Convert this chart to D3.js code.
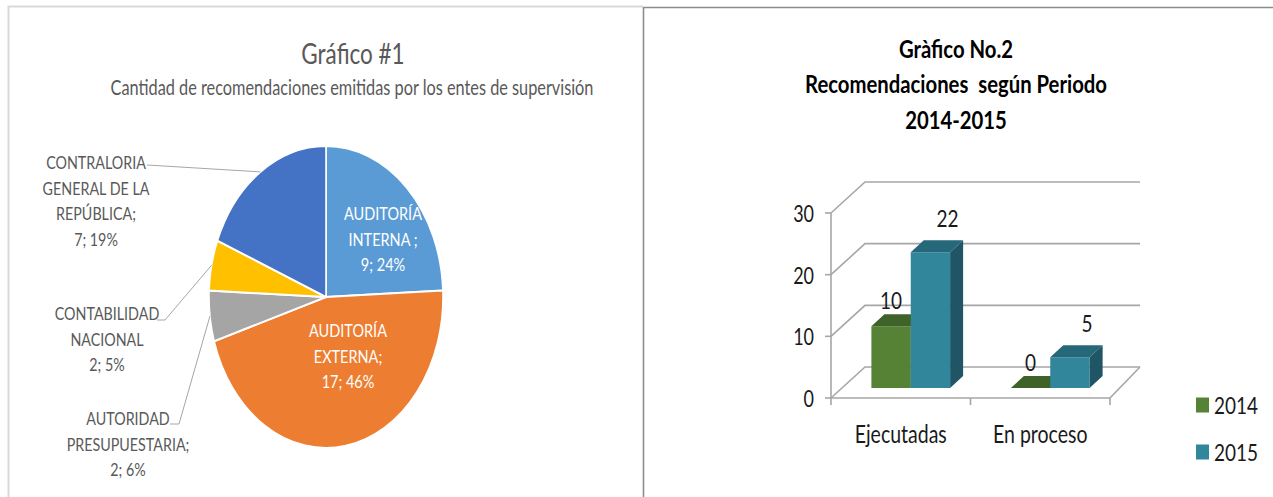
<!DOCTYPE html>
<html>
<head>
<meta charset="utf-8">
<script src="https://cdn.jsdelivr.net/npm/d3@7"></script>
<style>
  html, body { margin: 0; padding: 0; background: #fff; }
  svg { display: block; }
  text { white-space: pre; }
</style>
</head>
<body>
<div id="chart"></div>
<script>
// ---------------- DATA ----------------
// Chart 1 (pie)
const pieLabelNames = [
  "AUDITORÍA\nINTERNA ;",
  "AUDITORÍA\nEXTERNA;",
  "AUTORIDAD\nPRESUPUESTARIA;",
  "CONTABILIDAD\nNACIONAL",
  "CONTRALORIA\nGENERAL DE LA\nREPÚBLICA;"
];
const pieValues = [9, 17, 2, 2, 7];
const piePercents = ["24%", "46%", "6%", "5%", "19%"];
const pieColors = ["#5b9bd5", "#ed7d31", "#a5a5a5", "#ffc000", "#4472c4"];
const pieTitle = "Gráfico #1";
const pieSubtitle = "Cantidad de recomendaciones emitidas por los entes de supervisión";

// Chart 2 (3D column)
const barTitleLines = ["Gràfico No.2", "Recomendaciones  según Periodo", "2014-2015"];
const barCategories = ["Ejecutadas", "En proceso"];
const seriesNames = ["2014", "2015"];
const values2014 = [10, 0];
const values2015 = [22, 5];
const yTicks = [0, 10, 20, 30];

// ---------------- SETUP ----------------
const W = 1273, H = 497;
const FONT = "Lato, 'Open Sans', sans-serif";
const SY = 1.25;

const svg = d3.select("#chart").append("svg")
  .attr("width", W).attr("height", H)
  .attr("viewBox", `0 0 ${W} ${H}`);
svg.append("rect").attr("width", W).attr("height", H).attr("fill", "#fff");

function txt(g, x, y, s, o) {
  return g.append("text")
    .attr("transform", `translate(${x},${y}) scale(1,${o.sy || SY})`)
    .attr("text-anchor", o.anchor || "middle")
    .attr("dominant-baseline", "central")
    .attr("xml:space", "preserve")
    .style("font-family", FONT)
    .style("font-size", o.size + "px")
    .style("font-weight", o.weight || "normal")
    .style("fill", o.color || "#000")
    .text(s);
}

// ---------------- PANEL BORDERS ----------------
svg.append("path").attr("d", "M8.5,497 V6.5 H643").attr("fill", "none")
  .attr("stroke", "#d9d9d9").attr("stroke-width", 2);
svg.append("path").attr("d", "M643.5,497 V7.5 H1273").attr("fill", "none")
  .attr("stroke", "#8c8c8c").attr("stroke-width", 1.6);

// ---------------- PIE ----------------
const left = svg.append("g");
txt(left, 353, 53, pieTitle, { size: 22.5, color: "#595959" });
txt(left, 352, 87, pieSubtitle, { size: 16.3, color: "#595959" });

const cx = 326, cy = 297, rx = 117, ry = 151;
const pie = d3.pie().sort(null).value(d => d)(pieValues);
const arc = d3.arc().innerRadius(0).outerRadius(rx);
const pieG = left.append("g").attr("transform", `translate(${cx},${cy}) scale(1,${ry / rx})`);
pieG.selectAll("path").data(pie).enter().append("path")
  .attr("d", arc)
  .attr("fill", (d, i) => pieColors[i])
  .attr("stroke", "#fff").attr("stroke-width", 1.6);

function edgePoint(d, k) {
  const a = (d.startAngle + d.endAngle) / 2;
  return [cx + rx * k * Math.sin(a), cy - ry * k * Math.cos(a)];
}
const labelText = (i) => pieLabelNames[i].split("\n").concat([`${pieValues[i]}; ${piePercents[i]}`]);
const LH = 25.5;

// Inside labels (slices 0,1)
const insidePos = { 0: [383, 213], 1: [348, 330] };
[0, 1].forEach(i => {
  const lines = labelText(i);
  lines.forEach((s, j) => txt(left, insidePos[i][0], insidePos[i][1] + j * LH, s, { size: 14.5, color: "#fff" }));
});

// Outside labels with leader lines (slices 2,3,4)
const outsideLayout = {
  2: { x: 128, y: 418, line: [[170, 424], [179, 424]] },
  3: { x: 107, y: 313, line: [[157, 320], [165, 320]] },
  4: { x: 96, y: 162, line: [[147, 165]] }
};
[2, 3, 4].forEach(i => {
  const L = outsideLayout[i];
  const pts = L.line.concat([edgePoint(pie[i], 1)]);
  left.append("path").attr("d", d3.line()(pts)).attr("fill", "none")
    .attr("stroke", "#a6a6a6").attr("stroke-width", 1);
  labelText(i).forEach((s, j) => txt(left, L.x, L.y + j * LH, s, { size: 14.3, color: "#595959" }));
});

// ---------------- 3D COLUMN ----------------
const right = svg.append("g");
barTitleLines.forEach((s, j) => txt(right, 956, 48 + j * 35.5, s, { size: 20.3, weight: "bold", color: "#000" }));

const x0 = 831, x1 = 1110;
const y = d3.scaleLinear().domain([0, 30]).range([398, 213]);
const DX = 34, DY = -31;         // wall depth
const PX = 10, PY = -10;         // bar plane offset
const BX = 13, BY = -12;         // bar depth
const gridC = "#a6a6a6";

const xBand = d3.scaleBand().domain(barCategories).range([x0, x1]).padding(0);
const sBand = d3.scaleBand().domain(seriesNames).range([0, xBand.bandwidth()]).paddingInner(0).paddingOuter(0.772);

// back wall gridlines + left wall diagonals
yTicks.forEach(t => {
  const yy = y(t);
  right.append("path").attr("d", d3.line()([[x0, yy], [x0 + DX, yy + DY], [x1 + 30, yy + DY]]))
    .attr("fill", "none").attr("stroke", gridC).attr("stroke-width", 1.6);
});
// floor right edge
right.append("path").attr("d", d3.line()([[x1, y(0)], [x1 + 30, y(0) + DY]]))
  .attr("fill", "none").attr("stroke", gridC).attr("stroke-width", 1.6);
// front vertical axis
right.append("line").attr("x1", x0).attr("x2", x0).attr("y1", y(30)).attr("y2", y(0))
  .attr("stroke", gridC).attr("stroke-width", 1.6);
// front category axis
right.append("line").attr("x1", x0).attr("x2", x1).attr("y1", y(0)).attr("y2", y(0))
  .attr("stroke", gridC).attr("stroke-width", 1.6);
// y ticks + labels
yTicks.forEach(t => {
  right.append("line").attr("x1", x0 - 6).attr("x2", x0).attr("y1", y(t)).attr("y2", y(t))
    .attr("stroke", gridC).attr("stroke-width", 1.6);
  txt(right, x0 - 17, y(t), String(t), { size: 18, anchor: "end", color: "#1a1a1a" });
});
// category ticks
[x0].concat(barCategories.map(c => xBand(c) + xBand.bandwidth())).forEach(xx => {
  right.append("line").attr("x1", xx).attr("x2", xx).attr("y1", y(0)).attr("y2", y(0) + 7)
    .attr("stroke", gridC).attr("stroke-width", 1.6);
});
barCategories.forEach(c => txt(right, xBand(c) + xBand.bandwidth() / 2, 434, c, { size: 19.5, color: "#1a1a1a" }));

// bars
const seriesData = [values2014, values2015];
const faceColors = [
  { front: "#558235", top: "#3f6229", side: "#3a5a25" },
  { front: "#31869b", top: "#246879", side: "#1f5565" }
];
const labelOff = [[0, -26], [17, -34]];
seriesData.forEach((vals, si) => {
  vals.forEach((v, ci) => {
    const c = barCategories[ci];
    const xl = xBand(c) + sBand(seriesNames[si]) + PX;
    const xr = xl + sBand.bandwidth();
    const yb = y(0) + PY;
    const yt = y(v) + PY;
    const col = faceColors[si];
    const g = right.append("g");
    if (v > 0) {
      g.append("path").attr("d", d3.line()([[xl, yb], [xl, yt], [xr, yt], [xr, yb]]) + "Z").attr("fill", col.front);
      g.append("path").attr("d", d3.line()([[xr, yb], [xr, yt], [xr + BX, yt + BY], [xr + BX, yb + BY]]) + "Z").attr("fill", col.side);
    }
    g.append("path").attr("d", d3.line()([[xl, yt], [xr, yt], [xr + BX, yt + BY], [xl + BX, yt + BY]]) + "Z").attr("fill", col.top);
    txt(right, (xl + xr) / 2 + labelOff[si][0], yt + labelOff[si][1], String(v), { size: 19, color: "#1a1a1a" });
  });
});

// legend
seriesNames.forEach((s, i) => {
  const ly = 405 + i * 47;
  right.append("rect").attr("x", 1196).attr("y", ly - 7.5).attr("width", 13).attr("height", 15)
    .attr("fill", faceColors[i].front);
  txt(right, 1214, ly, s, { size: 19, anchor: "start", color: "#1a1a1a" });
});
</script>
</body>
</html>
